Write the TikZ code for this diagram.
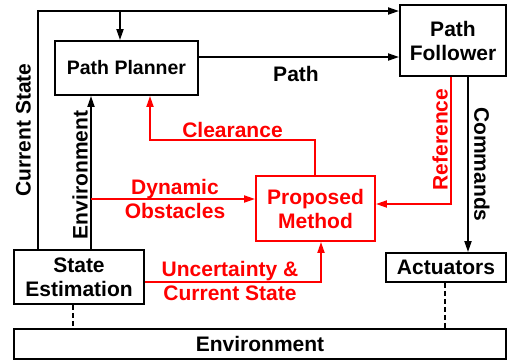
\documentclass[tikz,border=0pt]{standalone}
\usepackage{fontspec}
\setmainfont{Liberation Sans}
\usetikzlibrary{arrows.meta}
\tikzset{
  x=1pt,y=-1pt,
  box/.style={draw,line width=1.9pt,rectangle,inner sep=0pt,align=center,font=\fontsize{21}{24}\selectfont\bfseries},
  redbox/.style={box,draw=red,text=red},
  lbl/.style={font=\fontsize{21}{24}\selectfont\bfseries,align=center,inner sep=0pt},
  conn/.style={line width=1.9pt},
  arr/.style={conn,-{Triangle[length=11pt,width=7pt]}},
}
\begin{document}
\begin{tikzpicture}
\useasboundingbox (0,0) rectangle (507,360);
% boxes
\node[box,minimum width=143pt,minimum height=54pt,font=\fontsize{19.5}{24}\selectfont\bfseries] (planner) at (126.5,68) {Path Planner};
\node[box,minimum width=106pt,minimum height=71pt] (follower) at (453,40.5) {Path\\Follower};
\node[box,minimum width=130pt,minimum height=54pt] (stateest) at (79,277) {State\\Estimation};
\node[redbox,minimum width=119pt,minimum height=65pt] (proposed) at (315.5,208.5) {Proposed\\Method};
\node[box,minimum width=120pt,minimum height=29pt] (actuators) at (446,267.5) {Actuators};
\node[box,minimum width=492pt,minimum height=30pt] (env) at (260,344) {Environment};
% helper coordinates
\coordinate (cs) at (38,11);
\coordinate (tp) at (120,11);
\coordinate (py) at (0,57);
\coordinate (xenv) at (91,0);
\coordinate (dy) at (0,199);
\coordinate (cl) at (150,140);
\coordinate (rc) at (451,204);
\coordinate (xc) at (468,0);
\coordinate (uc) at (321,282);
\coordinate (d1) at (73,0);
\coordinate (d2) at (445,0);
% black connectors
\draw[arr] (stateest.north -| cs) -- (cs) -- (cs -| follower.west);
\draw[arr] (tp) -- (tp |- planner.north);
\draw[arr] (planner.east |- py) -- (follower.west |- py);
\draw[arr] (stateest.north -| xenv) -- (planner.south -| xenv);
\draw[arr] (xc |- follower.south) -- (xc |- actuators.north);
\draw[conn,dashed,dash pattern=on 5pt off 3pt] (stateest.south -| d1) -- (env.north -| d1);
\draw[conn,dashed,dash pattern=on 5pt off 3pt] (actuators.south -| d2) -- (env.north -| d2);
% red connectors
\draw[arr,red] (xenv |- dy) -- (proposed.west |- dy);
\draw[arr,red] (proposed.north -| 315,0) |- (cl) -- (cl |- planner.south);
\draw[arr,red] (rc |- follower.south) -- (rc) -- (rc -| proposed.east);
\draw[arr,red] (stateest.east |- uc) -- (uc) -- (uc |- proposed.south);
% labels
\node[lbl,rotate=90] (lcs) at (23.5,130) {Current State};
\node[lbl,rotate=90] (lenv) at (80,175) {Environment};
\node[lbl] (lpath) at (296,74) {Path};
\node[lbl,text=red] (lcl) at (232.5,130) {Clearance};
\node[lbl,text=red] (ldyn) at (175,199) {Dynamic\\Obstacles};
\node[lbl,text=red] (lunc) at (230,281) {Uncertainty \&\\Current State};
\node[lbl,text=red,rotate=90] (lref) at (440,139.5) {Reference};
\node[lbl,rotate=-90] (lcmd) at (482,164.5) {Commands};
\end{tikzpicture}
\end{document}
